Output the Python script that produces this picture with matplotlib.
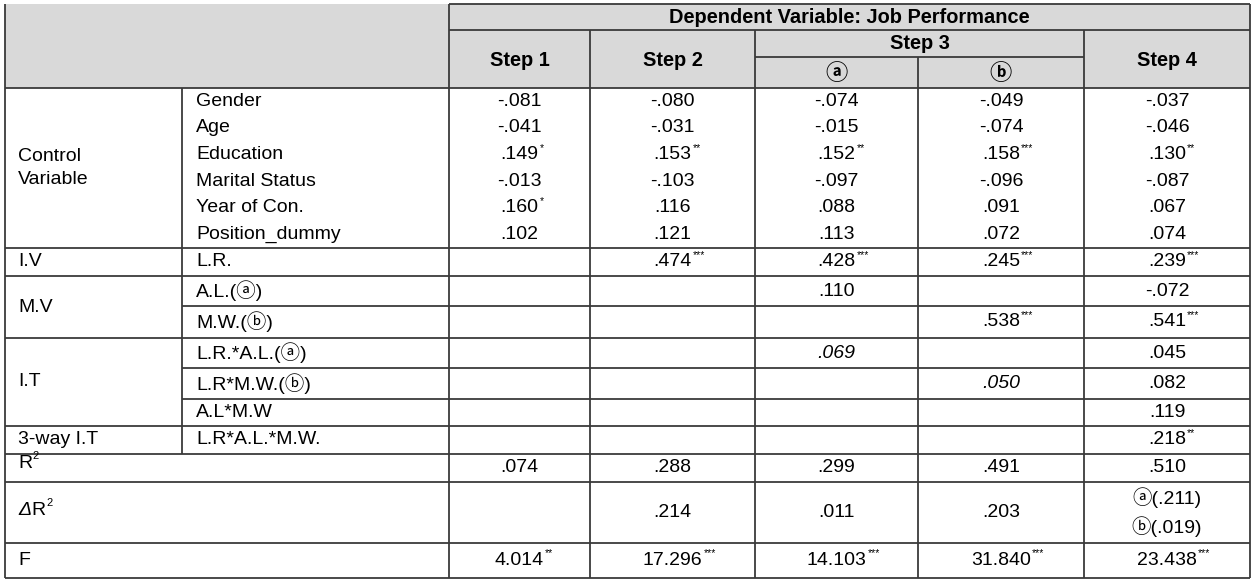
import matplotlib
matplotlib.use("Agg")
import matplotlib.pyplot as plt

# ---------------- data ----------------
group_labels = ["Control\nVariable", "I.V", "M.V", "I.T", "3-way I.T"]
variable_labels = ["Gender", "Age", "Education", "Marital Status", "Year of Con.",
                   "Position_dummy", "L.R.", "A.L.(ⓐ)", "M.W.(ⓑ)", "L.R.*A.L.(ⓐ)",
                   "L.R*M.W.(ⓑ)", "A.L*M.W", "L.R*A.L.*M.W."]
title_header = "Dependent Variable: Job Performance"
column_headers = ["Step 1", "Step 2", "Step 3", "Step 4"]
step3_sub = ["ⓐ", "ⓑ"]
step1 = ["-.081", "-.041", ".149*", "-.013", ".160*", ".102", "", "", "", "", "", "", ""]
step2 = ["-.080", "-.031", ".153**", "-.103", ".116", ".121", ".474***", "", "", "", "", "", ""]
step3a = ["-.074", "-.015", ".152**", "-.097", ".088", ".113", ".428***", ".110", "", ".069", "", "", ""]
step3b = ["-.049", "-.074", ".158***", "-.096", ".091", ".072", ".245***", "", ".538***", "", ".050", "", ""]
step4 = ["-.037", "-.046", ".130**", "-.087", ".067", ".074", ".239***", "-.072", ".541***",
         ".045", ".082", ".119", ".218**"]
r_squared = [".074", ".288", ".299", ".491", ".510"]
delta_r_squared = ["", ".214", ".011", ".203", "ⓐ(.211)\nⓑ(.019)"]
f_values = ["4.014**", "17.296***", "14.103***", "31.840***", "23.438***"]
italic_cells = {(2, 9), (3, 10)}  # (value column, row)

# ---------------- layout ----------------
W, H = 1254, 580
X = [5, 182, 449, 590, 755, 918, 1084, 1250]
HEAD_Y = [4, 30, 57, 88]
ctrl_h = (248 - 88) / 6
row_edges = [88 + ctrl_h * i for i in range(6)] + [248, 276, 306, 338, 368, 399, 426, 454]
stat_edges = [454, 482, 543, 578]
group_spans = [(0, 6), (6, 7), (7, 9), (9, 12), (12, 13)]

FONT = ["Liberation Sans", "Noto Sans CJK SC", "DejaVu Sans"]
CIRCLE_FONT = ["Noto Sans CJK SC", "DejaVu Sans"]
FS = 14
HFS = 14.4
LC = "#3a3a3a"
LW = 1.3
GRAY = "#d9d9d9"

fig = plt.figure(figsize=(W / 100, H / 100), dpi=100)
ax = fig.add_axes([0, 0, 1, 1])
ax.set_xlim(0, W)
ax.set_ylim(H, 0)
ax.axis("off")

# header background
ax.add_patch(plt.Rectangle((X[0], HEAD_Y[0]), X[-1] - X[0], HEAD_Y[-1] - HEAD_Y[0],
                           facecolor=GRAY, edgecolor="none", zorder=0))


def hline(y, x0, x1):
    ax.plot([x0, x1], [y, y], color=LC, lw=LW, solid_capstyle="butt", zorder=2)


def vline(x, y0, y1):
    ax.plot([x, x], [y0, y1], color=LC, lw=LW, solid_capstyle="butt", zorder=2)


def cell_text(x, y, s, ha="center", italic=False, bold=False, size=FS):
    num = s.rstrip("*")
    stars = s[len(num):]
    t = ax.text(x, y, num, ha=ha, va="center", fontsize=size, family=FONT,
                style="italic" if italic else "normal",
                weight="bold" if bold else "normal", zorder=3)
    if stars:
        ax.annotate(stars, xy=(1, 1), xycoords=t, xytext=(0.8, 2.5),
                    textcoords="offset points", ha="left", va="top",
                    fontsize=7.5, family=FONT, zorder=3)
    return t


# header lines
hline(HEAD_Y[0], X[2], X[-1])
hline(HEAD_Y[1], X[2], X[-1])
hline(HEAD_Y[2], X[4], X[6])
vline(X[3], HEAD_Y[1], HEAD_Y[3])
vline(X[4], HEAD_Y[1], HEAD_Y[3])
vline(X[5], HEAD_Y[2], HEAD_Y[3])
vline(X[6], HEAD_Y[1], HEAD_Y[3])

# header text
ax.text((X[2] + X[-1]) / 2, (HEAD_Y[0] + HEAD_Y[1]) / 2 + 0.5, title_header, ha="center",
        va="center", fontsize=HFS, weight="bold", family=FONT)
hdr_cols = [(X[2], X[3]), (X[3], X[4]), (X[4], X[6]), (X[6], X[7])]
for name, (a, b) in zip(column_headers, hdr_cols):
    if name == "Step 3":
        yc = (HEAD_Y[1] + HEAD_Y[2]) / 2
    else:
        yc = (HEAD_Y[1] + HEAD_Y[3]) / 2 + 1.5
    ax.text((a + b) / 2, yc, name, ha="center", va="center", fontsize=HFS,
            weight="bold", family=FONT)
for lab, (a, b) in zip(step3_sub, [(X[4], X[5]), (X[5], X[6])]):
    ax.text((a + b) / 2, (HEAD_Y[2] + HEAD_Y[3]) / 2 + 1, lab, ha="center", va="center",
            fontsize=16, weight="bold", family=CIRCLE_FONT)

# body horizontal lines
full_lines = [row_edges[0]] + [row_edges[s] for s, _ in group_spans[1:]] + stat_edges
for y in full_lines:
    hline(y, X[0], X[-1])
for s, e in group_spans:
    if s == 0:
        continue
    for r in range(s + 1, e):
        hline(row_edges[r], X[1], X[-1])

# vertical lines
vline(X[0], HEAD_Y[0], stat_edges[-1])
vline(X[2], HEAD_Y[0], stat_edges[-1])
vline(X[-1], HEAD_Y[0], stat_edges[-1])
vline(X[1], row_edges[0], row_edges[-1])
for xi in (3, 4, 5, 6):
    vline(X[xi], HEAD_Y[3], stat_edges[-1])

# group labels
for lab, (s, e) in zip(group_labels, group_spans):
    yc = (row_edges[s] + row_edges[e]) / 2
    ax.text(18, yc, lab, ha="left", va="center", fontsize=FS, family=FONT,
            linespacing=1.45)

# variable labels
for r, lab in enumerate(variable_labels):
    yc = (row_edges[r] + row_edges[r + 1]) / 2
    ax.text(196, yc, lab, ha="left", va="center", fontsize=FS, family=FONT)

# values
columns = [step1, step2, step3a, step3b, step4]
for ci, col in enumerate(columns):
    xc = (X[ci + 2] + X[ci + 3]) / 2
    for r, v in enumerate(col):
        if not v:
            continue
        yc = (row_edges[r] + row_edges[r + 1]) / 2
        cell_text(xc, yc, v, italic=(ci, r) in italic_cells)

# statistics rows
stat_rows = [r_squared, delta_r_squared, f_values]
for si, vals in enumerate(stat_rows):
    y0, y1 = stat_edges[si], stat_edges[si + 1]
    yc = (y0 + y1) / 2
    for ci, v in enumerate(vals):
        if not v:
            continue
        xc = (X[ci + 2] + X[ci + 3]) / 2
        parts = v.split("\n")
        if len(parts) == 1:
            cell_text(xc, yc, v)
        else:
            step = (y1 - y0) / (len(parts) + 0.1)
            for k, p in enumerate(parts):
                yy = yc + (k - (len(parts) - 1) / 2) * step
                ax.text(xc, yy, p, ha="center", va="center", fontsize=FS, family=FONT)

# stat labels
yc = (stat_edges[0] + stat_edges[1]) / 2
tR = ax.text(18, yc - 4, "R", ha="left", va="center", fontsize=FS, family=FONT)
ax.annotate("2", xy=(1, 1), xycoords=tR, xytext=(0.5, 3), textcoords="offset points",
            ha="left", va="top", fontsize=8, family=FONT)
yc = (stat_edges[1] + stat_edges[2]) / 2
tD = ax.text(18, yc - 2, "Δ", ha="left", va="center", fontsize=FS, family=FONT,
             style="italic")
tR2 = ax.annotate("R", xy=(1, 0.5), xycoords=tD, xytext=(0, 0), textcoords="offset points",
                  ha="left", va="center", fontsize=FS, family=FONT)
ax.annotate("2", xy=(1, 1), xycoords=tR2, xytext=(0.5, 3), textcoords="offset points",
            ha="left", va="top", fontsize=8, family=FONT)
yc = (stat_edges[2] + stat_edges[3]) / 2
ax.text(18, yc, "F", ha="left", va="center", fontsize=FS, family=FONT)

fig.savefig("out.png", dpi=100, facecolor="white")
